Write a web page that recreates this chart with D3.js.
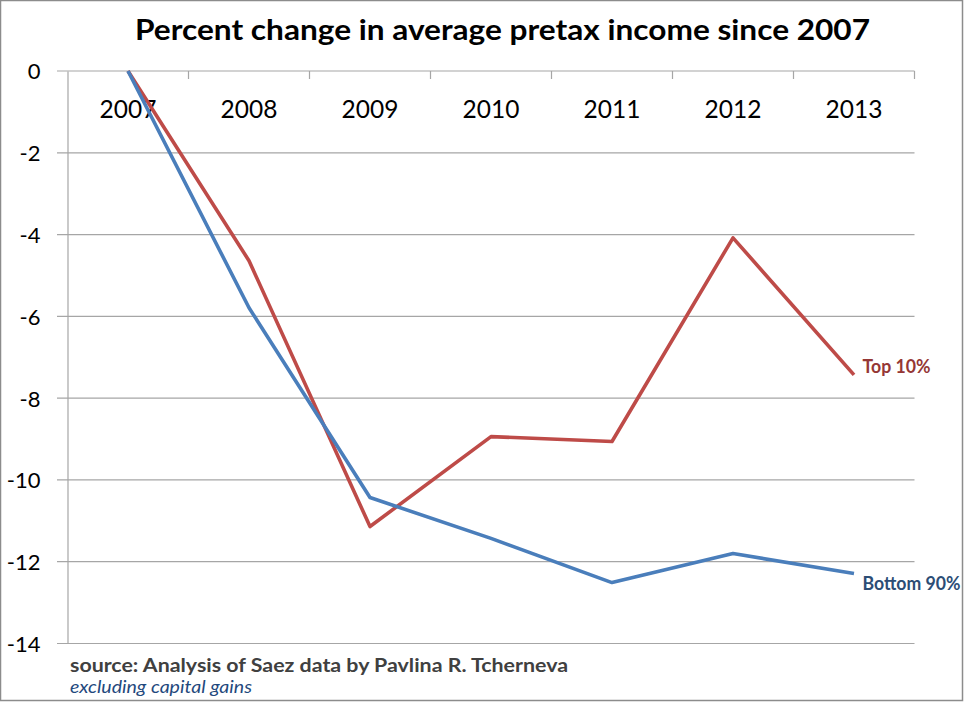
<!DOCTYPE html>
<html><head><meta charset="utf-8">
<script src="https://d3js.org/d3.v7.min.js"></script>
<style>body{margin:0;background:#fff}svg{display:block}</style>
</head><body>
<script>
const years = ["2007","2008","2009","2010","2011","2012","2013"];
const top10 = [0, -4.64, -11.14, -8.94, -9.06, -4.08, -7.43];
const bottom90 = [0, -5.79, -10.43, -11.43, -12.51, -11.8, -12.29];
const yTicks = [0, -2, -4, -6, -8, -10, -12, -14];

const W = 969, H = 704;
const svg = d3.select("body").append("svg").attr("width", W).attr("height", H)
  .style("font-family", "Lato, 'Open Sans', sans-serif");

svg.append("rect").attr("x", 0.5).attr("y", 0.5).attr("width", 962).attr("height", 700)
  .attr("fill", "#fff").attr("stroke", "#8c8c8c").attr("stroke-width", 1.5);

const x = d3.scaleBand().domain(years).range([67.5, 914.5]);
const y = d3.scaleLinear().domain([-14, 0]).range([643.5, 71]);

// gridlines
svg.append("g").selectAll("line").data(yTicks).join("line")
  .attr("x1", 57).attr("x2", 914.5)
  .attr("y1", d => y(d)).attr("y2", d => y(d))
  .attr("stroke", "#a6a6a6").attr("stroke-width", 1.2);

// y axis
const yAxis = svg.append("g").attr("transform", "translate(67.5,0)")
  .call(d3.axisLeft(y).tickValues(yTicks).tickSize(0).tickPadding(27).tickFormat(d3.format("d")));
yAxis.select(".domain").attr("stroke", "#a6a6a6").attr("stroke-width", 1.2);
yAxis.selectAll("text").attr("font-size", 22).attr("fill", "#000").attr("font-family", "Lato, sans-serif")
  .attr("dy", "0.36em")
  .text(d => d < 0 ? "-" + Math.abs(d) : d);

// x axis at 0
const xAxis = svg.append("g").attr("transform", `translate(0,${y(0)})`)
  .call(d3.axisBottom(x).tickSize(0));
xAxis.select(".domain").remove();
xAxis.selectAll("text").attr("font-size", 24.5).attr("fill", "#000").attr("font-family", "Lato, sans-serif")
  .attr("dy", 0).attr("y", 46.5);
const bounds = years.map(d => x(d)).concat([x(years[years.length-1]) + x.bandwidth()]);
svg.append("g").selectAll("line").data(bounds.slice(1)).join("line")
  .attr("x1", d => d).attr("x2", d => d).attr("y1", y(0)).attr("y2", y(0) + 8)
  .attr("stroke", "#a6a6a6").attr("stroke-width", 1.2);

const line = d3.line().x((d, i) => x(years[i]) + x.bandwidth() / 2).y(d => y(d));
svg.append("path").datum(top10).attr("d", line).attr("fill", "none")
  .attr("stroke", "#BE4B48").attr("stroke-width", 3.6).attr("stroke-linejoin", "round");
svg.append("path").datum(bottom90).attr("d", line).attr("fill", "none")
  .attr("stroke", "#4A7EBB").attr("stroke-width", 3.6).attr("stroke-linejoin", "round");

const lastX = x(years[6]) + x.bandwidth() / 2;
svg.append("text").attr("x", lastX + 8.5).attr("y", 372.7).text("Top 10%")
  .attr("font-size", 18.5).attr("font-weight", "bold").attr("fill", "#953735")
  .attr("textLength", 68).attr("lengthAdjust", "spacingAndGlyphs");
svg.append("text").attr("x", lastX + 8.5).attr("y", 590).text("Bottom 90%")
  .attr("font-size", 18.5).attr("font-weight", "bold").attr("fill", "#2C4D75")
  .attr("textLength", 98).attr("lengthAdjust", "spacingAndGlyphs");

svg.append("text").attr("x", 135).attr("y", 39.5)
  .text("Percent change in average pretax income since 2007")
  .attr("font-size", 28).attr("font-weight", "bold").attr("fill", "#000")
  .attr("textLength", 735).attr("lengthAdjust", "spacingAndGlyphs");

svg.append("text").attr("x", 70).attr("y", 671.7)
  .text("source: Analysis of Saez data by Pavlina R. Tcherneva")
  .attr("font-size", 19).attr("font-weight", "bold").attr("fill", "#404040")
  .attr("textLength", 498).attr("lengthAdjust", "spacingAndGlyphs");
svg.append("text").attr("x", 70).attr("y", 693.3)
  .text("excluding capital gains")
  .attr("font-size", 18).attr("font-style", "italic").attr("fill", "#1F497D")
  .attr("textLength", 182).attr("lengthAdjust", "spacingAndGlyphs");
</script>
</body></html>
